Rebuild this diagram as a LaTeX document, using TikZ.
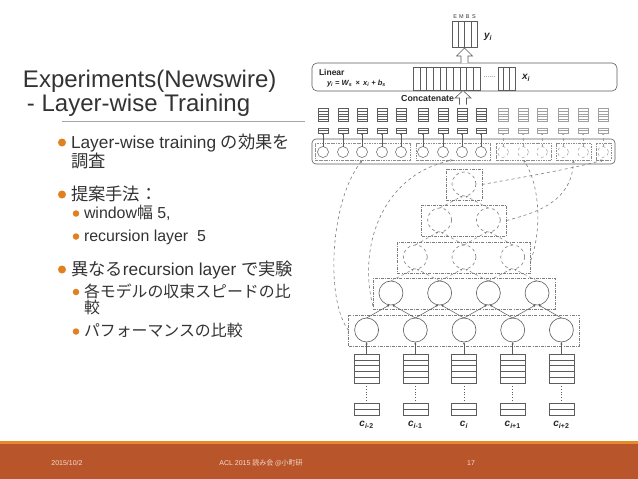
\documentclass[tikz,border=0pt]{standalone}
\usepackage{fontspec}
\setmainfont{Liberation Sans}
\newfontfamily\cjk{Noto Sans CJK JP}
\usetikzlibrary{arrows.meta,calc}
\definecolor{txt}{HTML}{333333}
\definecolor{bul}{HTML}{E0801E}
\definecolor{band}{HTML}{B9552B}
\definecolor{bandline}{HTML}{E8892A}
\definecolor{foot}{HTML}{F3DDCF}
\definecolor{fg}{HTML}{5C5C5C}
\definecolor{fglight}{HTML}{A0A0A0}
\begin{document}
\begin{tikzpicture}[x=1pt,y=-1pt,
  every node/.style={inner sep=0pt, outer sep=0pt},
  % slide text
  ttl/.style={anchor=base west, text=txt, font=\fontsize{24}{27}\selectfont},
  mtxt/.style={anchor=base west, text=txt, font=\fontsize{17.3}{20}\selectfont},
  stxt/.style={anchor=base west, text=txt, font=\fontsize{15.9}{18}\selectfont},
  dotm/.style={circle, fill=bul, minimum size=8pt},
  dots/.style={circle, fill=bul, minimum size=6.5pt},
  foottxt/.style={text=foot, font=\fontsize{7}{8}\selectfont},
  % figure
  bigc/.style={circle, draw=fg, line width=0.6pt, minimum size=24pt},
  bigcd/.style={bigc, draw=fg!80, dashed},
  lay1/.style={bigc}, lay2/.style={bigc}, lay3/.style={bigcd}, lay4/.style={bigcd}, lay5/.style={bigcd},
  layerbox/.style={draw=fg!80, line width=0.5pt, dash pattern=on 3pt off 1.2pt on 0.8pt off 1.2pt},
  edge2/.style={draw=fg, line width=0.5pt, -{Stealth[length=2.5pt,width=2.2pt]}},
  edge3/.style={edge2, draw=fg!80, dashed},
  edge4/.style={edge3}, edge5/.style={edge3},
  tcd/.style={circle, draw=fg, line width=0.5pt, minimum size=11pt},
  tcl/.style={circle, draw=fglight, dashed, line width=0.5pt, minimum size=11pt},
  sbd/.style={draw=fg, line width=0.5pt, minimum width=10pt, minimum height=5pt},
  sbl/.style={sbd, draw=fglight},
  vbd/.style={draw=fg, line width=0.5pt, minimum width=10pt, minimum height=13pt},
  vbl/.style={vbd, draw=fglight},
  lnd/.style={draw=fg, line width=0.35pt},
  lnl/.style={draw=fglight, line width=0.35pt},
  tad/.style={draw=fg, line width=0.5pt, -{Stealth[length=2pt,width=1.8pt]}},
  tal/.style={draw=fglight, dashed, line width=0.5pt, -{Stealth[length=2pt,width=1.8pt]}},
  grpbox/.style={draw=fg!70, line width=0.45pt, dash pattern=on 2.5pt off 1pt on 0.7pt off 1pt, minimum height=17pt},
  curve/.style={draw=fg!80, line width=0.6pt, dashed, -{Stealth[length=3pt,width=2.5pt]}},
  vecbox/.style={draw=fg, line width=0.6pt},
  hollow/.style={draw=fg, line width=0.6pt, fill=white},
  figlbl/.style={text=black!85, font=\bfseries\itshape\fontsize{10}{11}\selectfont},
  charbox/.style={draw=fg, line width=0.6pt, minimum width=25pt}
]
\useasboundingbox (0,0) rectangle (638,479);
\fill[white] (0,0) rectangle (638,479);

% ---------- footer ----------
\fill[bandline] (0,440.5) rectangle (638,443.5);
\fill[band] (0,443.5) rectangle (638,479);
\node[foottxt] (fdate) at (67,463) {2015/10/2};
\node[foottxt] (fconf) at (261,463) {ACL 2015 {\cjk 読み会 @小町研}};
\node[foottxt] (fpage) at (471,463) {17};

% ---------- title ----------
\node[ttl] (title1) at (23,87) {Experiments(Newswire)};
\node[ttl] (title2) at (27,111.5) {- Layer-wise Training};
\draw[gray!70, line width=0.8pt] (62,121) -- (305,121);

% ---------- bullets ----------
\node[dotm] (d1) at (62,142.5) {};
\node[mtxt] (m1a) at (71,148) {Layer-wise training {\cjk の効果を}};
\node[mtxt] (m1b) at (71,167) {\cjk 調査};
\node[dotm] (d2) at (62,194.5) {};
\node[mtxt] (m2) at (71,200) {\cjk 提案手法：};
\node[dots] (d21) at (76,213.5) {};
\node[stxt] (s21) at (84,218.5) {window{\cjk 幅} 5,};
\node[dots] (d22) at (76,236.5) {};
\node[stxt] (s22) at (84,241.5) {recursion layer\ \ 5};
\node[dotm] (d3) at (62,269.5) {};
\node[mtxt] (m3) at (71,275) {{\cjk 異なる}recursion layer {\cjk で実験}};
\node[dots] (d31) at (76,292) {};
\node[stxt] (s31a) at (84,297) {\cjk 各モデルの収束スピードの比};
\node[stxt] (s31b) at (84,313) {\cjk 較};
\node[dots] (d32) at (76,331.5) {};
\node[stxt] (s32) at (84,336.5) {\cjk パフォーマンスの比較};

% ---------- figure: output ----------
\node[vecbox, minimum width=25pt, minimum height=26pt] (yv) at (464.5,34) {};
\foreach \c in {1,2,3}
  \draw[lnd] ($(yv.north west)+(\c*6.25,0)$) -- ($(yv.south west)+(\c*6.25,0)$);
\foreach \c/\l in {0/E,1/M,2/B,3/S}
  \node[font=\fontsize{5.5}{6}\selectfont, text=black!80] (emb\c) at ($(yv.north west)+(\c*6.25+3.1,-4.5)$) {\l};
\node[figlbl, anchor=west] (ylbl) at (484,37) {y\textsubscript{\itshape i}};

\node[draw=fg, line width=0.6pt, rounded corners=5pt, minimum width=305pt, minimum height=28pt] (lin) at (464.5,77) {};
\node[anchor=base west, font=\bfseries\fontsize{8.5}{9}\selectfont, text=black!85] (linlbl) at (319,75) {Linear};
\node[anchor=base west, font=\bfseries\itshape\fontsize{7.5}{8}\selectfont, text=black!85] (lineq) at (327,85.5)
  {y\textsubscript{i} = W\textsubscript{s} \,\upshape×\,\itshape\ x\textsubscript{i} + b\textsubscript{s}};
\node[vecbox, minimum width=67pt, minimum height=23pt] (xv) at (446.5,78.5) {};
\foreach \c in {1,...,9}
  \draw[lnd] ($(xv.north west)+(\c*6.7,0)$) -- ($(xv.south west)+(\c*6.7,0)$);
\node[font=\fontsize{7}{8}\selectfont, text=fg] (xdots) at (489.5,77) {......};
\node[vecbox, minimum width=17pt, minimum height=23pt] (xv2) at (506.5,78.5) {};
\foreach \c in {1,2}
  \draw[lnd] ($(xv2.north west)+(\c*5.67,0)$) -- ($(xv2.south west)+(\c*5.67,0)$);
\node[figlbl, anchor=west] (xlbl) at (522,78) {x\textsubscript{\itshape i}};

% hollow arrow Linear -> y
\draw[hollow] ($(lin.north)+(-3.5,0)$) -- ++(0,-7) -- ++(-4.5,0) -- ++(8,-8) -- ++(8,8) -- ++(-4.5,0) -- ++(0,7);
% hollow arrow Concatenate
\draw[hollow] ($(lin.south)+(-5,13.5)$) -- ++(0,-6.5) -- ++(-4.5,0) -- ++(8,-7.5) -- ++(8,7.5) -- ++(-4.5,0) -- ++(0,6.5);
\node[anchor=base east, font=\bfseries\fontsize{8.8}{9}\selectfont, text=black!85] (conc) at (454,101) {Concatenate};

% ---------- figure: concatenated layer outputs ----------
\node[draw=fg, line width=0.6pt, rounded corners=4pt, minimum width=303pt, minimum height=25pt] (T) at (463.5,151.5) {};
\node[grpbox, minimum width=95pt] (g1) at (362.5,151.5) {};
\node[grpbox, minimum width=74pt] (g2) at (453,151.5) {};
\node[grpbox, minimum width=55pt] (g3) at (523.5,151.5) {};
\node[grpbox, minimum width=35pt] (g4) at (573.5,151.5) {};
\node[grpbox, minimum width=15pt] (g5) at (603.5,151.5) {};
\foreach \i/\xx/\s in {1/323/d,2/343/d,3/362/d,4/382/d,5/401/d,6/423/d,7/443/d,8/462/d,9/481/d,10/503/l,11/523/l,12/542/l,13/563/l,14/583/l,15/603/l}{
  \node[tc\s] (t\i) at (\xx,152) {};
  \node[sb\s] (s\i) at (\xx,130.5) {};
  \node[vb\s] (v\i) at (\xx,115) {};
  \foreach \r in {1,...,4}
    \draw[ln\s] ($(v\i.north west)+(0,\r*2.6)$) -- ($(v\i.north east)+(0,\r*2.6)$);
  \draw[ln\s] (s\i.west) -- (s\i.east);
  \draw[ta\s] (t\i) -- (s\i);
}

% ---------- figure: pyramid ----------
\foreach \L/\yy in {1/330,2/293,3/257,4/220,5/184}{
  \pgfmathtruncatemacro\n{6-\L}
  \foreach \j in {1,...,\n}{
    \pgfmathsetmacro\xx{464+(\j-(\n+1)/2)*48.7}
    \node[lay\L] (p\L-\j) at (\xx,\yy) {};
  }
  \pgfmathsetmacro\w{(\n-1)*48.7+36}
  \node[layerbox, minimum width=\w pt, minimum height=31pt] (B\L) at (464,\yy+0.5) {};
}
\foreach \L in {1,...,4}{
  \pgfmathtruncatemacro\U{\L+1}
  \pgfmathtruncatemacro\n{5-\L}
  \foreach \j in {1,...,\n}{
    \pgfmathtruncatemacro\k{\j+1}
    \draw[edge\U] (p\L-\j.north) -- ([xshift=-1.5pt]p\U-\j.south);
    \draw[edge\U] (p\L-\k.north) -- ([xshift=1.5pt]p\U-\j.south);
  }
}

% ---------- figure: characters ----------
\foreach \j/\lab in {1/{\textsubscript{\itshape i\upshape-2}},2/{\textsubscript{\itshape i\upshape-1}},3/{\textsubscript{\itshape i}},4/{\textsubscript{\itshape i\upshape+1}},5/{\textsubscript{\itshape i\upshape+2}}}{
  \node[charbox, minimum height=29pt] (cs\j) at (p1-\j |- 0,368.5) {};
  \foreach \r in {1,...,4}
    \draw[lnd] ($(cs\j.north west)+(0,\r*5.8)$) -- ($(cs\j.north east)+(0,\r*5.8)$);
  \node[charbox, minimum height=12pt] (cb\j) at (p1-\j |- 0,409) {};
  \draw[lnd] (cb\j.west) -- (cb\j.east);
  \draw[fg, line width=0.8pt, dotted, shorten <=3pt, shorten >=1pt] (cs\j.south) -- (cb\j.north);
  \draw[draw=fg, line width=0.6pt, -{Stealth[length=2.5pt,width=2pt]}] (cs\j.north) -- (p1-\j.south);
  \node[font=\bfseries\fontsize{10}{11}\selectfont, text=black!85] (cl\j) at (p1-\j |- 0,425) {\itshape c\lab};
}

% ---------- figure: layer-wise connections ----------
\draw[curve] (B1.west) .. controls (325,300) and (330,200) .. (g1.south);
\draw[curve] ($(B2.south west)+(0,-3)$) .. controls (358,250) and (380,175) .. (g2.south);
\draw[curve] ($(B3.east)+(0,3)$) .. controls (542,230) and (540,185) .. (g3.south);
\draw[curve] (B4.east) .. controls (540,212) and (572,200) .. (g4.south);
\draw[curve] (B5.east) .. controls (530,176) and (575,168) .. (g5.south);
\end{tikzpicture}
\end{document}
